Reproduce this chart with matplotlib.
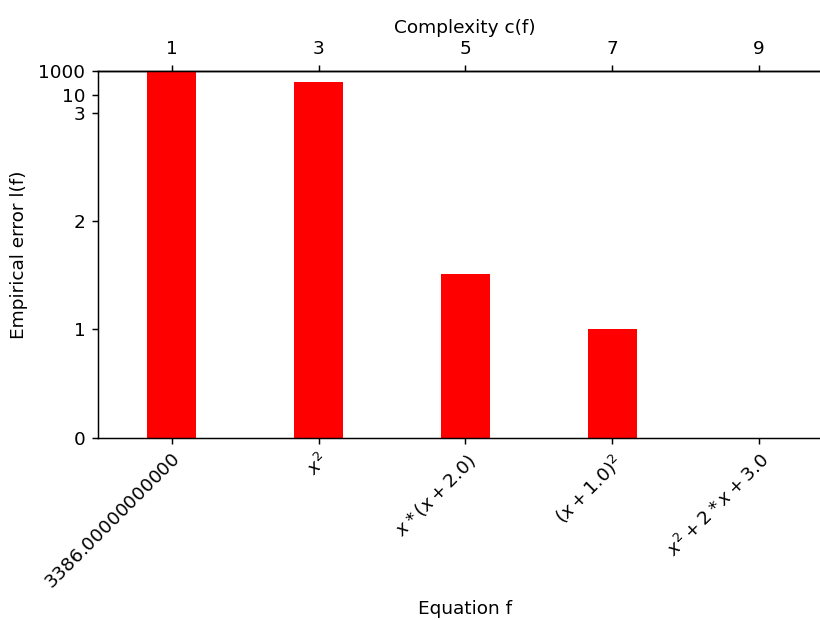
import numpy as np
import matplotlib
matplotlib.use("Agg")
import matplotlib.pyplot as plt

complexity = [1, 3, 5, 7, 9]
errors = [1000, 120, 1.51, 1.0, 0.0]
equations = [r"$3386.00000000000$", r"$x^2$", r"$x*(x+2.0)$", r"$(x+1.0)^2$", r"$x^2+2*x+3.0$"]
ytick_vals = [0, 1, 2, 3, 10, 1000]
top_ticks = [1, 3, 5, 7, 9]

# piecewise scale: linear up to 3, compressed log above
_kl = np.log10([3.0, 10.0, 1000.0])
_kp = np.array([3.0, 3.1645, 3.388])


def fwd(y):
    y = np.asarray(y, dtype=float)
    ly = np.log10(np.maximum(y, 3.0))
    slope_last = (_kp[2] - _kp[1]) / (_kl[2] - _kl[1])
    hi = np.interp(ly, _kl, _kp)
    hi = np.where(ly > _kl[-1], _kp[-1] + (ly - _kl[-1]) * slope_last, hi)
    return np.where(y <= 3.0, y, hi)


def inv(p):
    p = np.asarray(p, dtype=float)
    slope_last = (_kp[2] - _kp[1]) / (_kl[2] - _kl[1])
    lp = np.interp(np.maximum(p, 3.0), _kp, _kl)
    lp = np.where(p > _kp[-1], _kl[-1] + (p - _kp[-1]) / slope_last, lp)
    return np.where(p <= 3.0, p, 10.0 ** lp)


DPI = 133
plt.rcParams["font.family"] = ["DejaVu Sans"]
plt.rcParams["font.size"] = 10

fig = plt.figure(figsize=(820 / DPI, 620 / DPI), dpi=DPI)
ax = fig.add_axes([98.3 / 820, (620 - 437.7) / 620, 734 / 820, 366.7 / 620])

ax.set_yscale("function", functions=(fwd, inv))
ax.bar(complexity, errors, width=2 / 3, color="red")
ax.set_xlim(0, 10)
ax.set_ylim(0, 1000)
ax.set_yticks(ytick_vals)
ax.set_yticklabels([str(v) for v in ytick_vals])
ax.minorticks_off()

ax.set_xticks(complexity)
ax.set_xticklabels(equations, rotation=45, ha="right", va="top", rotation_mode="anchor")
ax.set_xlabel("Equation f")
ax.set_ylabel("Empirical error l(f)")
ax.yaxis.set_label_coords(-0.096, 0.5)
ax.spines["right"].set_visible(False)

top = ax.secondary_xaxis("top")
top.set_xticks(top_ticks)
top.set_xticklabels([str(t) for t in top_ticks])
top.set_xlabel("Complexity c(f)")

fig.savefig("out.png", dpi=DPI)
